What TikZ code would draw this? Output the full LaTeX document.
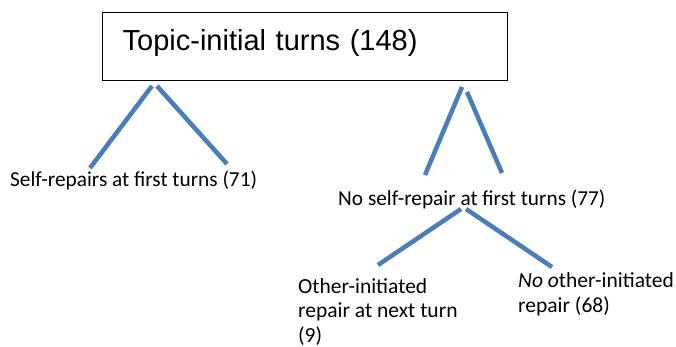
\documentclass[tikz,border=0pt]{standalone}
\usepackage{fontspec}
\setmainfont{Carlito}
\newfontfamily\arialfont{Liberation Sans}
\definecolor{branchblue}{RGB}{74,126,187}
\tikzset{
    branch/.style={branchblue, line width=4.5pt},
    label/.style={anchor=base west, inner sep=0pt, align=left, font=\fontsize{21.5}{24.5}\selectfont}
}
\begin{document}
\begin{tikzpicture}[x=1pt, y=-1pt]
            \useasboundingbox (0,0) rectangle (676,347);

            \node[draw, line width=1.3pt, anchor=north west, inner xsep=20pt, inner ysep=0pt,
                  text width=365pt, align=left, text height=38pt, text depth=30pt,
                  font=\arialfont\fontsize{29}{35}\selectfont] (topic) at (102,12) {Topic-initial turns (148)};

            \begin{scope}[every node/.style={label}]

                \node[font=\fontsize{21.3}{25}\selectfont] (selfrep) at (10,187) {Self-repairs at first turns (71)};
                \node[font=\fontsize{21.3}{25}\selectfont] (noself) at (338,205) {No self-repair at first turns (77)};
                % base of a multi-line node is its last line
                \node (otherinit) at (298,342) {Other-initiated\\repair at next turn\\(9)};
                \node (noother) at (518,312) {\textit{No o}ther-initiated\\repair (68)};

            \end{scope}

            \coordinate (l1a) at (152,86);  \coordinate (l1b) at (90,168);
            \coordinate (l2a) at (157,86);  \coordinate (l2b) at (227,164);
            \coordinate (r1a) at (462,87);  \coordinate (r1b) at (425,175);
            \coordinate (r2a) at (467,92);  \coordinate (r2b) at (502,173);
            \coordinate (b1a) at (461,209); \coordinate (b1b) at (378,265);
            \coordinate (b2a) at (466,209); \coordinate (b2b) at (552,267);

            \path[branch] (l1a) edge (l1b);
            \path[branch] (l2a) edge (l2b);
            \path[branch] (r1a) edge (r1b);
            \path[branch] (r2a) edge (r2b);
            \path[branch] (b1a) edge (b1b);
            \path[branch] (b2a) edge (b2b);

        \end{tikzpicture}
\end{document}
